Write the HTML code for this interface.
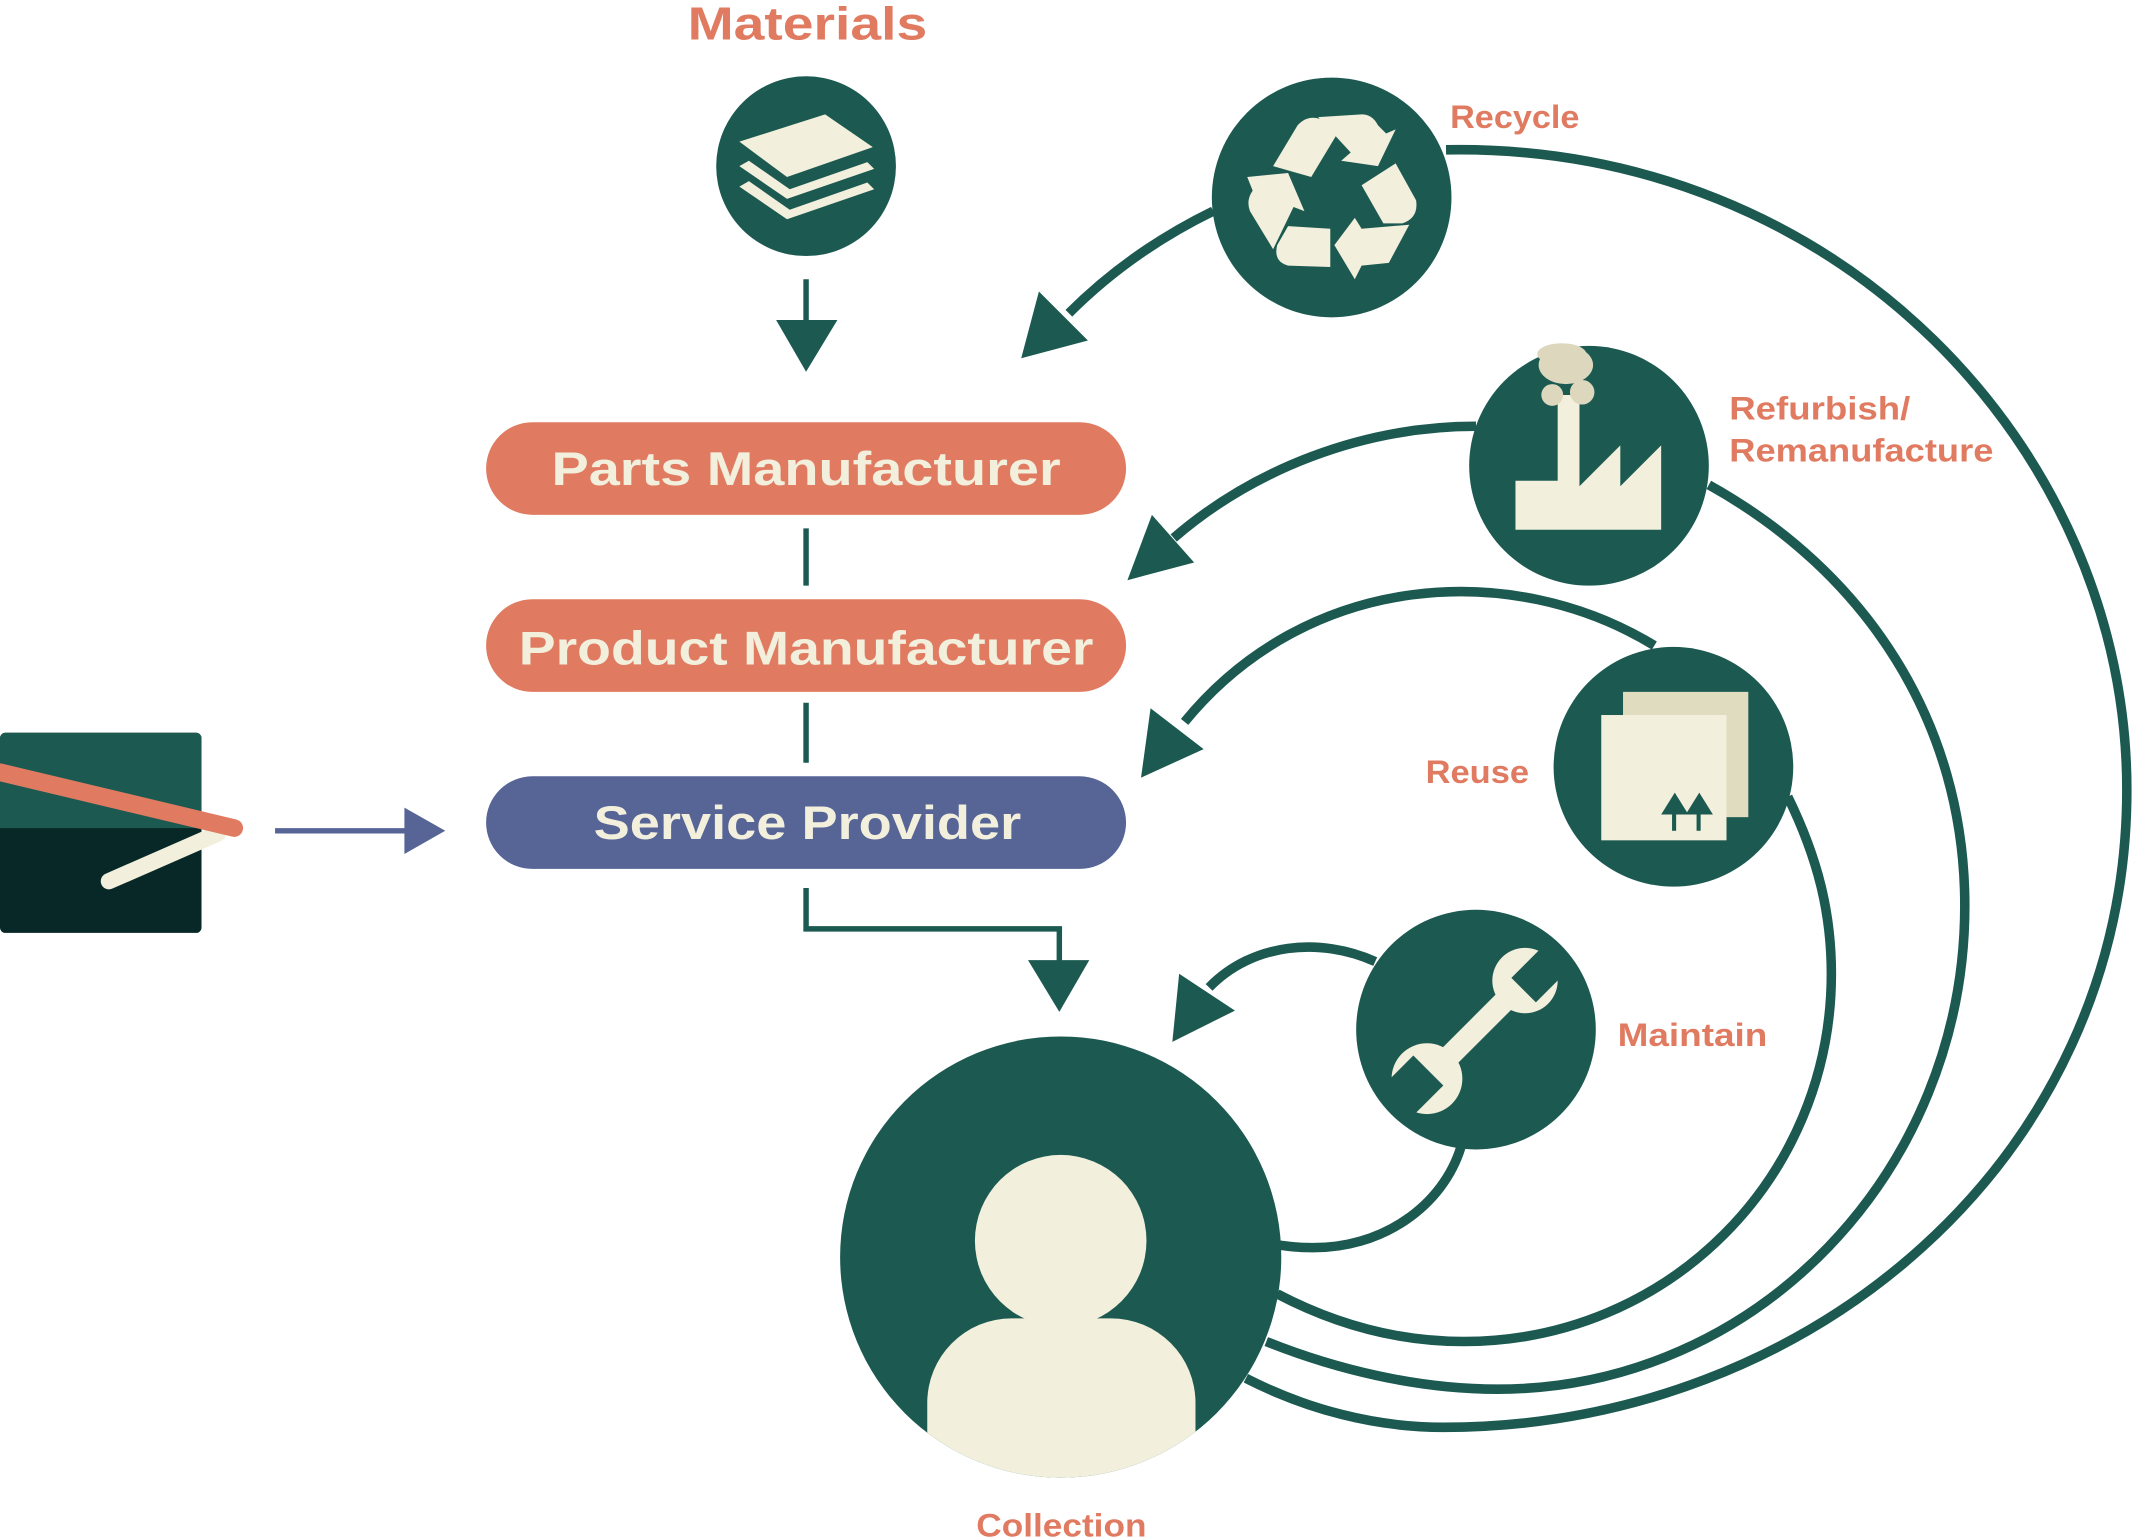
<!DOCTYPE html>
<html><head><meta charset="utf-8"><style>
html,body{margin:0;padding:0;background:#fff;}
svg{display:block;}
text{font-family:"Liberation Sans",sans-serif;font-weight:bold;}
</style></head><body>
<svg width="2135" height="1539" viewBox="0 0 1568 1130" preserveAspectRatio="none" xmlns="http://www.w3.org/2000/svg">
<defs><clipPath id="cc"><circle cx="779" cy="923" r="162"/></clipPath></defs>
<g fill="none" stroke="#1c5a51" stroke-width="7">
<path d="M1062,110 C1350,105 1562,330 1562,580 C1562,850 1330,1048 1060,1048 C1010,1048 960,1035 915,1012"/>
<path d="M1255,356 C1370,420 1443,530 1443,665 C1443,860 1290,1020 1100,1020 C1040,1020 980,1005 930,985"/>
<path d="M1313,585 C1335,630 1345,670 1345,715 C1345,865 1225,985 1075,985 C1025,985 980,972 938,950"/>
<path d="M1073,842 C1060,885 1015,918 960,916 C952,916 945,915 938,914"/>
<path d="M891,155 C850,175 815,200 785,230"/>
<path d="M1084,313 C1000,313 920,345 862,395"/>
<path d="M1215,474 C1110,410 960,420 870,530"/>
<path d="M1010,706 C970,688 920,692 888,725"/>
</g>
<g fill="#1c5a51">
<polygon points="763,214 799,250 750,263"/>
<polygon points="846,378 877,413 828,426"/>
<polygon points="845,520 884,550 838,571"/>
<polygon points="866,715 907,742 861,765"/>
</g>
<text x="505" y="29" textLength="176" lengthAdjust="spacingAndGlyphs" font-size="34" fill="#e07b61">Materials</text>
<circle cx="592" cy="122" r="66" fill="#1c5a51"/>
<g fill="#f2efdc">
<polygon points="543,104 606,84 641,108 578,130"/>
<polygon points="543,122 550,118 580,139 637,119 642,124 578,146"/>
<polygon points="543,137 550,133 580,154 637,134 642,139 578,161"/>
</g>
<line x1="592" y1="205" x2="592" y2="240" stroke="#1c5a51" stroke-width="4"/>
<polygon points="570,235 615,235 592,273" fill="#1c5a51"/>
<rect x="357" y="310" width="470" height="68" rx="34" fill="#e07b61"/>
<text x="405" y="356" textLength="374" lengthAdjust="spacingAndGlyphs" font-size="35" fill="#f2efdc">Parts Manufacturer</text>
<line x1="592" y1="388" x2="592" y2="430" stroke="#1c5a51" stroke-width="4"/>
<rect x="357" y="440" width="470" height="68" rx="34" fill="#e07b61"/>
<text x="381" y="488" textLength="422" lengthAdjust="spacingAndGlyphs" font-size="35" fill="#f2efdc">Product Manufacturer</text>
<line x1="592" y1="516" x2="592" y2="560" stroke="#1c5a51" stroke-width="4"/>
<rect x="357" y="570" width="470" height="68" rx="34" fill="#566496"/>
<text x="436" y="616" textLength="314" lengthAdjust="spacingAndGlyphs" font-size="35" fill="#f2efdc">Service Provider</text>
<polyline points="592,652 592,682 778,682 778,708" fill="none" stroke="#1c5a51" stroke-width="4"/>
<polygon points="755,705 800,705 778,743" fill="#1c5a51"/>
<rect x="0" y="538" width="148" height="147" rx="4" fill="#072826"/>
<path d="M4,538 H144 A4,4 0 0 1 148,542 V608 H0 V542 A4,4 0 0 1 4,538 Z" fill="#1c5a51"/>
<line x1="80" y1="647" x2="160" y2="612" stroke="#f2efdc" stroke-width="12" stroke-linecap="round"/>
<line x1="0" y1="567" x2="172" y2="608" stroke="#e07b61" stroke-width="13" stroke-linecap="round"/>
<line x1="202" y1="610" x2="300" y2="610" stroke="#566496" stroke-width="4"/>
<polygon points="297,593 297,627 327,610" fill="#566496"/>
<circle cx="779" cy="923" r="162" fill="#1c5a51"/>
<g clip-path="url(#cc)" fill="#f2efdc">
<circle cx="779" cy="911" r="63"/>
<path d="M681,1090 V1030 A62,62 0 0 1 743,968 H816 A62,62 0 0 1 878,1030 V1090 Z"/>
</g>
<text x="717" y="1128" textLength="125" lengthAdjust="spacingAndGlyphs" font-size="24" fill="#e07b61">Collection</text>
<circle cx="1084" cy="756" r="88" fill="#1c5a51"/>
<g fill="#f2efdc">
<line x1="1050" y1="790" x2="1118" y2="722" stroke="#f2efdc" stroke-width="16"/>
<circle cx="1120" cy="720" r="24"/><circle cx="1048" cy="792" r="26"/>
</g>
<g fill="#1c5a51">
<polygon points="1132,696 1150,714 1128,736 1110,718"/>
<polygon points="1038,775 1060,797 1036,821 1014,799"/>
</g>
<text x="1188" y="768" textLength="110" lengthAdjust="spacingAndGlyphs" font-size="24" fill="#e07b61">Maintain</text>
<circle cx="1229" cy="563" r="88" fill="#1c5a51"/>
<rect x="1192" y="508" width="92" height="92" fill="#e0dcc0"/>
<rect x="1176" y="525" width="92" height="92" fill="#f2efdc"/>
<g fill="#1c5a51"><polygon points="1220,598 1230,582 1240,598"/><polygon points="1238,598 1248,582 1258,598"/><rect x="1228" y="598" width="3" height="12"/><rect x="1246" y="598" width="3" height="12"/></g>
<text x="1047" y="575" textLength="76" lengthAdjust="spacingAndGlyphs" font-size="24" fill="#e07b61">Reuse</text>
<circle cx="1167" cy="342" r="88" fill="#1c5a51"/>
<g fill="#f2efdc">
<path d="M1113,389 V353 H1144 V290 H1160 V357 L1190,327 V357 L1220,327 V389 Z"/>
</g>
<g fill="#ddd8bd"><ellipse cx="1150" cy="268" rx="20" ry="14"/><circle cx="1140" cy="290" r="8"/><circle cx="1162" cy="288" r="9"/><ellipse cx="1147" cy="260" rx="18" ry="8"/></g>
<text x="1270" y="308" textLength="133" lengthAdjust="spacingAndGlyphs" font-size="24" fill="#e07b61">Refurbish/</text>
<text x="1270" y="339" textLength="194" lengthAdjust="spacingAndGlyphs" font-size="24" fill="#e07b61">Remanufacture</text>
<circle cx="978" cy="145" r="88" fill="#1c5a51"/>
<g fill="#f2efdc">
<path d="M935,122 L953,92 Q962,82 975,90 L981,100 L963,130 Z"/>
<path d="M968,86 L1000,84 Q1008,84 1012,92 L1018,98 L1025,95 L1012,122 L985,118 L992,112 Z"/>
<path d="M1025,120 L1040,147 Q1042,160 1030,164 L1016,164 L1000,136 Z"/>
<path d="M1035,165 L1020,193 L1000,195 L995,205 L980,180 L995,160 L1000,168 Z"/>
<path d="M977,196 L946,195 Q935,192 938,180 L946,166 L977,168 Z"/>
<path d="M935,183 L918,155 Q915,147 920,140 L916,130 L946,127 L958,155 L950,152 Z"/>
</g>
<text x="1065" y="94" textLength="95" lengthAdjust="spacingAndGlyphs" font-size="24" fill="#e07b61">Recycle</text>
</svg>
</body></html>
